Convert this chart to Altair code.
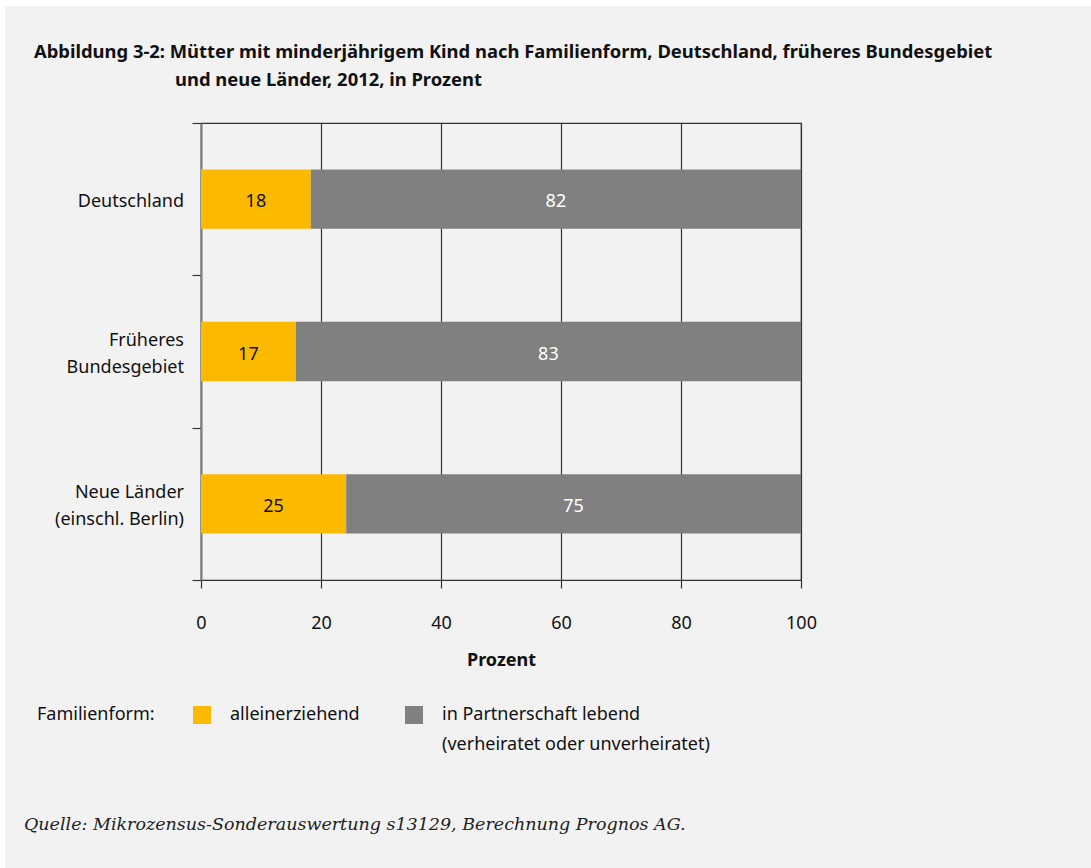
import altair as alt
import pandas as pd

categories = ["Deutschland", "Früheres\nBundesgebiet", "Neue Länder\n(einschl. Berlin)"]
allein = [18.3, 15.8, 24.2]
partner = [81.7, 84.2, 75.8]
allein_labels = ["18", "17", "25"]
partner_labels = ["82", "83", "75"]
series = ["alleinerziehend", "in Partnerschaft lebend"]
colors = ["#fbb900", "#808080"]
x_ticks = [0, 20, 40, 60, 80, 100]
boundaries = [0, 1, 2, 3]

title_line1 = "Abbildung 3-2: Mütter mit minderjährigem Kind nach Familienform, Deutschland, früheres Bundesgebiet"
title_line2 = "und neue Länder, 2012, in Prozent"
source_text = "Quelle: Mikrozensus-Sonderauswertung s13129, Berechnung Prognos AG."

FONT = "Noto Sans"
FS = 18
TFS = 18.4
BAR = 0.39
H = 457
LH = 27

rows = []
for i, c in enumerate(categories):
    a, p = allein[i], partner[i]
    rows.append(dict(cat=c, idx=i, series=series[0], start=0.0, end=a, label=allein_labels[i]))
    rows.append(dict(cat=c, idx=i, series=series[1], start=a, end=a + p, label=partner_labels[i]))
df = pd.DataFrame(rows)
df["top"] = df["idx"] + 0.5 - BAR / 2
df["bot"] = df["idx"] + 0.5 + BAR / 2
df["mid"] = df["idx"] + 0.5
df["cx"] = (df["start"] + df["end"]) / 2

px_per_unit = H / len(categories)
cat_df = pd.DataFrame({"cat": categories})
cat_df["nlines"] = [c.count("\n") + 1 for c in categories]
cat_df["ty"] = [i + 0.5 - (n - 1) * LH / 2 / px_per_unit for i, n in enumerate(cat_df["nlines"])]

one = pd.DataFrame({"t": [source_text]})
t1 = pd.DataFrame({"t": [title_line1]})
t2 = pd.DataFrame({"t": [title_line2]})

xscale = alt.Scale(domain=[0, 100], nice=False, zero=False)
yscale = alt.Scale(domain=[0, 3], reverse=True, nice=False, zero=False)

xaxis = alt.Axis(values=x_ticks, grid=True, gridColor="#333333", gridWidth=1.2,
                 tickColor="#333333", tickSize=8, tickWidth=1.2,
                 domainColor="#333333", domainWidth=1.2,
                 labelFontSize=FS, labelPadding=26, labelColor="#111111",
                 labelFlush=False,
                 title="Prozent", titleFontSize=FS, titleFontWeight="bold",
                 titlePadding=19, titleColor="#111111")
yaxis = alt.Axis(values=boundaries, labels=False, grid=False, tickSize=9,
                 tickColor="#333333", tickWidth=1.2, domainColor="#808080",
                 domainWidth=2, title=None)

bars = alt.Chart(df).mark_rect().encode(
    x=alt.X("start:Q", scale=xscale, axis=xaxis),
    x2="end:Q",
    y=alt.Y("top:Q", scale=yscale, axis=yaxis),
    y2="bot:Q",
    color=alt.Color("series:N", scale=alt.Scale(domain=series, range=colors),
                    legend=alt.Legend(
                        title="Familienform:", orient="none", legendX=-164, legendY=583,
                        direction="horizontal", titleOrient="left",
                        titleFontWeight="normal", titleFontSize=FS, titleColor="#111111",
                        titlePadding=38, titleAnchor="start", titleBaseline="top",
                        symbolType="square", symbolSize=324, symbolStrokeWidth=0,
                        symbolOpacity=1,
                        labelFontSize=FS, labelColor="#111111", labelOffset=19,
                        labelLimit=400, columnPadding=45, labelBaseline="middle",
                        labelExpr="datum.label == 'in Partnerschaft lebend' ? ['in Partnerschaft lebend', '(verheiratet oder unverheiratet)'] : [datum.label, ' ']",
                    )),
)

bar_text = alt.Chart(df).mark_text(fontSize=FS, baseline="middle", align="center", dy=3).encode(
    x=alt.X("cx:Q", scale=xscale),
    y=alt.Y("mid:Q", scale=yscale),
    text="label:N",
    color=alt.condition(alt.datum.series == series[0], alt.value("#111111"), alt.value("white")),
)

cat_text = alt.Chart(cat_df).mark_text(fontSize=FS, align="right", baseline="middle", dy=3,
                                       lineBreak="\n", lineHeight=LH, color="#111111").encode(
    x=alt.value(-17),
    y=alt.Y("ty:Q", scale=yscale),
    text="cat:N",
)

src = alt.Chart(one).mark_text(font="DejaVu Serif", fontStyle="italic", fontSize=17.5,
                               align="left", baseline="middle", color="#222222").encode(
    x=alt.value(-177), y=alt.value(702), text="t:N")

title1 = alt.Chart(t1).mark_text(fontSize=TFS, fontWeight="bold", align="left",
                                 baseline="middle", color="#111111").encode(
    x=alt.value(-167), y=alt.value(-71), text="t:N")
title2 = alt.Chart(t2).mark_text(fontSize=TFS, fontWeight="bold", align="left",
                                 baseline="middle", color="#111111").encode(
    x=alt.value(-26), y=alt.value(-43), text="t:N")

strip_left = alt.Chart(one).mark_rect(color="white").encode(
    x=alt.value(-201), x2=alt.value(-196), y=alt.value(-123), y2=alt.value(745))
strip_top = alt.Chart(one).mark_rect(color="white").encode(
    x=alt.value(-201), x2=alt.value(890), y=alt.value(-123), y2=alt.value(-117))

chart = alt.layer(strip_left, strip_top, bars, bar_text, cat_text, src, title1, title2).properties(
    width=600, height=H,
    autosize=alt.AutoSizeParams(type="none"),
    padding={"left": 201, "top": 123, "right": 290, "bottom": 288},
    background="#f2f2f2",
).configure(
    font=FONT,
    style={"guide-label": {"lineHeight": 30}},
).configure_view(stroke="#333333", strokeWidth=1.2)

chart.save("out.html", embed_options={"renderer": "svg", "actions": False})
